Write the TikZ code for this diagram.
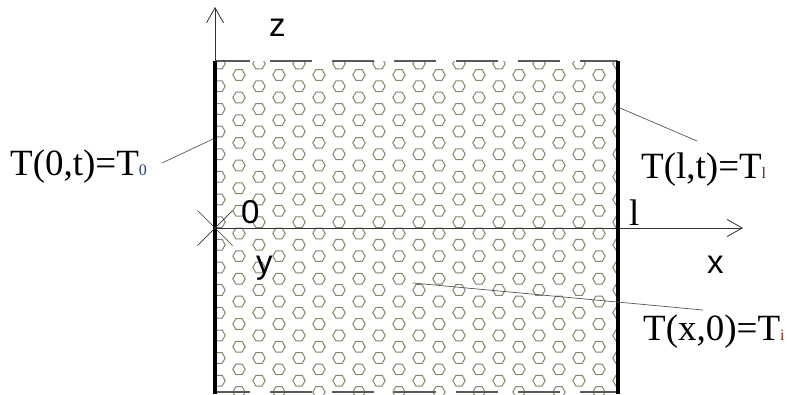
\documentclass[tikz,border=0pt]{standalone}
\usepackage{fontspec}
\setmainfont{Liberation Serif}
\setsansfont{Liberation Sans}
\usetikzlibrary{
  arrows.meta,
  positioning,
  calc
}
\definecolor{hxLine}{HTML}{85856B}
\definecolor{hxAxis}{HTML}{333333}
\definecolor{hxLead}{HTML}{555555}
\definecolor{hxEdge}{HTML}{5A5A5A}
\definecolor{hxSubA}{HTML}{23407A}
\definecolor{hxSubB}{HTML}{5A2A1A}
\definecolor{hxSubC}{HTML}{8A2E1E}
\tikzset{
  hexcell/.style={draw=hxLine, line width=1pt},
  wall/.style={line width=4.5pt, black},
  openedge/.style={draw=hxEdge, line width=1.1pt, dash pattern=on 42pt off 20pt, dash phase=7pt},
  axisline/.style={-{Straight Barb[length=15pt, width=17pt, line width=0.8pt]}, line width=0.9pt, hxAxis},
  crossline/.style={line width=0.7pt, hxAxis},
  leader/.style={line width=0.7pt, hxLead},
  axlabel/.style={font=\fontsize{33}{36}\selectfont\sffamily, inner sep=0pt, anchor=base west},
  bclabel/.style={font=\fontsize{37}{42}\selectfont, inner sep=0pt, anchor=base west}
}
\newcommand{\subtag}[2]{{\color{#1}\fontsize{16}{17}\selectfont #2}}

\begin{document}
\begin{tikzpicture}[x=1pt, y=-1pt]
  \useasboundingbox (0,0) rectangle (787,394);
  % slab corners and axes
  \coordinate (tl) at (215,61);
  \coordinate (tr) at (618,61);
  \coordinate (bl) at (215,392);
  \coordinate (br) at (618,392);
  \coordinate (blend) at (215,394);
  \coordinate (brend) at (618,394);
  \coordinate (O) at (215,228);
  \coordinate (xend) at (743,228);
  \coordinate (zend) at (215,7);

  % hexagon fill of the slab
  \begin{scope}
    \clip (tl) rectangle (brend);
    \foreach \k in {0,...,20}{
      \foreach \j in {0,...,15}{
        \pgfmathsetmacro{\hx}{219+20*\k}
        \pgfmathsetmacro{\hy}{63.6+22.65*\j+11.32*mod(\k,2)}
        \draw[hexcell] (\hx,\hy) +(0:6.2) -- +(60:6.2) -- +(120:6.2) -- +(180:6.2) -- +(240:6.2) -- +(300:6.2) -- cycle;
      }
    }
  \end{scope}

  \draw[openedge] (tl) -- (tr);
  \draw[openedge] (bl) -- (br);
  \draw[axisline] (O) -- (xend);
  \draw[axisline] (tl) -- (zend);
  \draw[wall] (tl) -- (blend);
  \draw[wall] (tr) -- (brend);
  \draw[crossline] (O) ++(-17.5,-17.5) -- ++(35,35);
  \draw[crossline] (O) ++(-17.5,17.5) -- ++(35,-35);

  % axis labels
  \node[axlabel] (zlab) at (269,36) {z};
  \node[axlabel] (olab) at (241,223) {0};
  \node[axlabel] (ylab) at (256,273) {y};
  \node[axlabel] (xlab) at (707,273) {x};
  \node[bclabel] (llab) at (629,225) {l};

  % boundary conditions
  \node[bclabel] (tzero) at (10,175) {T(0,t)=T\subtag{hxSubA}{0}};
  \node[bclabel] (tone) at (641,178) {T(l,t)=T\subtag{hxSubB}{l}};
  \node[bclabel] (tini) at (643,340) {T(x,0)=T\subtag{hxSubC}{i}};

  \coordinate (wallL) at (213,139);
  \coordinate (wallR) at (620,108);
  \coordinate (tzeroTip) at (162,163);
  \coordinate (toneTip) at (697,141);
  \coordinate (slabPt) at (413,283);
  \coordinate (tiniTip) at (703,310);
  \draw[leader] (tzeroTip) -- (wallL);
  \draw[leader] (wallR) -- (toneTip);
  \draw[leader] (slabPt) -- (tiniTip);
\end{tikzpicture}
\end{document}
